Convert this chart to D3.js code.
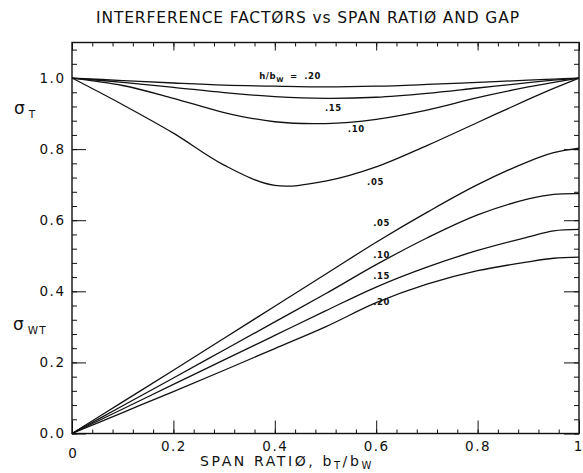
<!DOCTYPE html>
<html>
<head>
<meta charset="utf-8">
<script src="https://cdn.jsdelivr.net/npm/d3@7/dist/d3.min.js"></script>
<style>
body { margin: 0; background: #fff; }
text { font-family: "DejaVu Sans", sans-serif; fill: #111; }
</style>
</head>
<body>
<div id="chart"></div>
<script>
// span ratio b_T/b_W where the curves were read
const spanRatio = [0, 0.1, 0.2, 0.3, 0.4, 0.5, 0.6, 0.7, 0.8, 0.9, 0.95, 1.0];

// sigma_T for each gap h/b_W
const sigmaT20 = [1.0, 0.993, 0.986, 0.980, 0.977, 0.975, 0.977, 0.982, 0.988, 0.994, 0.997, 1.0];
const sigmaT15 = [1.0, 0.988, 0.974, 0.959, 0.948, 0.943, 0.946, 0.957, 0.972, 0.987, 0.994, 1.0];
const sigmaT10 = [1.0, 0.979, 0.943, 0.903, 0.877, 0.872, 0.884, 0.910, 0.945, 0.975, 0.988, 1.0];
const sigmaT05 = [1.0, 0.925, 0.845, 0.755, 0.698, 0.710, 0.750, 0.810, 0.875, 0.940, 0.971, 1.0];

// sigma_WT for each gap h/b_W
const sigmaWT05 = [0, 0.089, 0.178, 0.268, 0.358, 0.448, 0.538, 0.622, 0.700, 0.765, 0.790, 0.803];
const sigmaWT10 = [0, 0.078, 0.156, 0.235, 0.314, 0.393, 0.475, 0.550, 0.615, 0.660, 0.673, 0.675];
const sigmaWT15 = [0, 0.069, 0.138, 0.207, 0.276, 0.345, 0.412, 0.468, 0.515, 0.553, 0.570, 0.574];
const sigmaWT20 = [0, 0.059, 0.118, 0.178, 0.239, 0.300, 0.368, 0.420, 0.458, 0.483, 0.493, 0.496];

const allCurves = [sigmaT20, sigmaT15, sigmaT10, sigmaT05, sigmaWT05, sigmaWT10, sigmaWT15, sigmaWT20];

// tick labels
const xTickValues = [0, 0.2, 0.4, 0.6, 0.8, 1.0];
const xTickLabels = ["0", "0.2", "0.4", "0.6", "0.8", "1"];
const yTickValues = [0, 0.2, 0.4, 0.6, 0.8, 1.0];
const yTickLabels = ["0.0", "0.2", "0.4", "0.6", "0.8", "1.0"];

// curve labels, anchored in data units (start of text, baseline)
const curveLabels = [".20", ".15", ".10", ".05", ".05", ".10", ".15", ".20"];
const curveLabelX = [0.458, 0.499, 0.544, 0.582, 0.594, 0.594, 0.594, 0.594];
const curveLabelY = [0.997, 0.908, 0.847, 0.699, 0.584, 0.495, 0.436, 0.361];

const margin = {top: 42.5, right: 4, bottom: 39.5, left: 72},
      totalW = 583, totalH = 473,
      width = totalW - margin.left - margin.right,
      height = totalH - margin.top - margin.bottom;

const svgRoot = d3.select("#chart")
    .append("svg")
    .attr("width", totalW)
    .attr("height", totalH);

svgRoot.append("rect").attr("width", totalW).attr("height", totalH).attr("fill", "#fff");

const svg = svgRoot.append("g")
    .attr("transform", `translate(${margin.left},${margin.top})`);

const x = d3.scaleLinear().domain([0, 1]).range([0, width]);
const y = d3.scaleLinear().domain([0, 1.1]).range([height, 0]);

const minorX = d3.range(0, 1.0001, 0.04).map(v => +v.toFixed(2));
const minorY = d3.range(0, 1.0801, 0.04).map(v => +v.toFixed(2));

// minor ticks on all four sides
svg.append("g").attr("class", "axis")
    .attr("transform", `translate(0,${height})`)
    .call(d3.axisBottom(x).tickValues(minorX).tickSize(-4).tickFormat(""));
svg.append("g").attr("class", "axis")
    .call(d3.axisTop(x).tickValues(minorX).tickSize(-4).tickFormat(""));
svg.append("g").attr("class", "axis")
    .call(d3.axisLeft(y).tickValues(minorY).tickSize(-5).tickFormat(""));
svg.append("g").attr("class", "axis")
    .attr("transform", `translate(${width},0)`)
    .call(d3.axisRight(y).tickValues(minorY).tickSize(-5).tickFormat(""));

// major ticks with labels
const xAxis = svg.append("g").attr("class", "axis major")
    .attr("transform", `translate(0,${height})`)
    .call(d3.axisBottom(x).tickValues(xTickValues).tickSize(-13).tickPadding(8)
        .tickFormat((d, i) => xTickLabels[i]));

svg.append("g").attr("class", "axis major")
    .call(d3.axisTop(x).tickValues(xTickValues).tickSize(-8).tickFormat(""));

svg.append("g").attr("class", "axis major")
    .call(d3.axisLeft(y).tickValues(yTickValues).tickSize(-14).tickPadding(6.5)
        .tickFormat((d, i) => yTickLabels[i]));

svg.append("g").attr("class", "axis major")
    .attr("transform", `translate(${width},0)`)
    .call(d3.axisRight(y).tickValues(yTickValues).tickSize(-15).tickFormat(""));

svg.selectAll(".axis .domain").remove();
svg.selectAll(".axis line").attr("stroke", "#111").attr("stroke-width", 1);
svg.selectAll(".axis text")
    .attr("font-family", "DejaVu Sans, sans-serif")
    .attr("font-size", 13.5)
    .attr("letter-spacing", 1.5)
    .attr("fill", "#111");

// the "0" under the origin sits a little lower, the "1" hugs the right edge
xAxis.selectAll("text").filter((d, i) => i === 0).attr("dy", "1.2em").attr("letter-spacing", 0);
xAxis.selectAll("text").filter((d, i) => i === xTickValues.length - 1)
    .attr("letter-spacing", 0).attr("dx", -1.5);

// frame
svg.append("rect")
    .attr("width", width)
    .attr("height", height)
    .attr("fill", "none")
    .attr("stroke", "#111")
    .attr("stroke-width", 1.4);

// curves
const line = d3.line()
    .x((d, i) => x(spanRatio[i]))
    .y(d => y(d))
    .curve(d3.curveCatmullRom.alpha(0.5));

svg.selectAll(".curve")
    .data(allCurves)
    .enter()
    .append("path")
    .attr("class", "curve")
    .attr("d", line)
    .attr("fill", "none")
    .attr("stroke", "#111")
    .attr("stroke-width", 1.3);

// curve labels
svg.selectAll(".clabel")
    .data(curveLabels)
    .enter()
    .append("text")
    .attr("class", "clabel")
    .attr("x", (d, i) => x(curveLabelX[i]))
    .attr("y", (d, i) => y(curveLabelY[i]))
    .attr("font-family", "DejaVu Sans Mono, monospace")
    .attr("font-weight", "bold")
    .attr("font-size", 8.5)
    .attr("letter-spacing", 0.6)
    .text(d => d);

// "h/b_W =" in front of the top label
const hb = svg.append("text")
    .attr("x", x(curveLabelX[0]) - 45)
    .attr("y", y(curveLabelY[0]))
    .attr("font-family", "DejaVu Sans Mono, monospace")
    .attr("font-weight", "bold")
    .attr("font-size", 8.5)
    .attr("letter-spacing", 0.6);
hb.append("tspan").text("h/b");
hb.append("tspan").attr("dy", 3).attr("font-size", 6.5).text("W");
hb.append("tspan").attr("dy", -3).attr("dx", 6).text("=");

// title
svgRoot.append("text")
    .attr("x", 96)
    .attr("y", 23)
    .attr("font-size", 15.5)
    .attr("textLength", 423)
    .attr("lengthAdjust", "spacing")
    .text("INTERFERENCE FACTØRS vs SPAN RATIØ AND GAP");

// x-axis title
const xTitle = svgRoot.append("text")
    .attr("x", 200)
    .attr("y", 466)
    .attr("font-size", 14)
    .attr("letter-spacing", 2.6);
xTitle.append("tspan").text("SPAN RATIØ, b");
xTitle.append("tspan").attr("dy", 3).attr("font-size", 10).text("T");
xTitle.append("tspan").attr("dy", -3).text("/b");
xTitle.append("tspan").attr("dy", 3).attr("font-size", 10).text("W");

// y-axis titles
function sigmaLabel(px, py, sub) {
    const t = svgRoot.append("text")
        .attr("x", px)
        .attr("y", py)
        .attr("font-size", 17);
    t.append("tspan").text("σ");
    t.append("tspan").attr("dx", 4).attr("dy", 4).attr("font-size", 10.5)
        .attr("letter-spacing", 1).text(sub);
}
sigmaLabel(14, 114, "T");
sigmaLabel(13, 330, "WT");
</script>
</body>
</html>
